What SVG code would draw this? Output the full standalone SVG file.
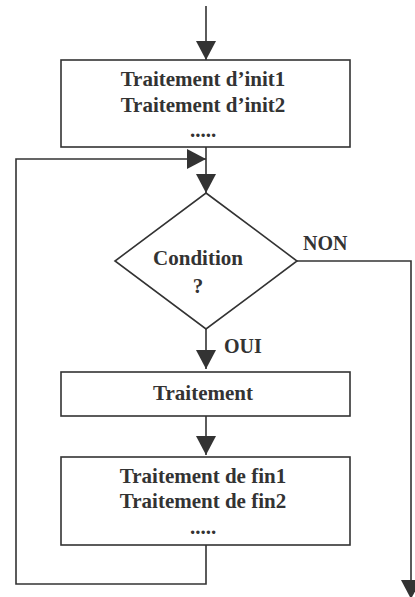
<svg xmlns="http://www.w3.org/2000/svg" width="415" height="597" viewBox="0 0 415 597">
<style>
.box{fill:#fff;stroke:#333;stroke-width:1.6}
.ln{fill:none;stroke:#333;stroke-width:1.6}
text{font-family:"Liberation Serif","Times New Roman",serif;font-weight:bold;font-size:21px;fill:#333;text-anchor:middle}
.lbl{font-size:20px;text-anchor:start}
</style>
<defs>
<marker id="ah" markerWidth="19" markerHeight="21" refX="19" refY="10" orient="auto" markerUnits="userSpaceOnUse">
<path d="M0,0 L19,10 L0,20 Z" fill="#333"/>
</marker>
</defs>
<g id="connectors">
<line class="ln" x1="206" y1="6" x2="206" y2="60" marker-end="url(#ah)"/>
<line class="ln" x1="206" y1="147" x2="206" y2="193" marker-end="url(#ah)"/>
<line class="ln" x1="206" y1="329" x2="206" y2="369" marker-end="url(#ah)"/>
<line class="ln" x1="206" y1="416" x2="206" y2="455" marker-end="url(#ah)"/>
<path class="ln" d="M206,545 V584 H16 V159 H206" marker-end="url(#ah)"/>
<path class="ln" d="M297,261 H411 V599" marker-end="url(#ah)"/>
<text class="lbl" x="303" y="250">NON</text>
<text class="lbl" x="224" y="353">OUI</text>
</g>
<g id="init">
<rect class="box" x="61" y="60" width="289" height="87"/>
<text x="203" y="86">Traitement d’init1</text>
<text x="203" y="112">Traitement d’init2</text>
<text x="203" y="137">.....</text>
</g>
<g id="condition">
<polygon class="box" points="206,193 297,261 206,329 115,261"/>
<text x="198" y="265" font-size="20">Condition</text>
<text x="198" y="293" font-size="20">?</text>
</g>
<g id="traitement">
<rect class="box" x="61" y="372" width="289" height="44"/>
<text x="203" y="400">Traitement</text>
</g>
<g id="fin">
<rect class="box" x="61" y="457" width="289" height="88"/>
<text x="203" y="483">Traitement de fin1</text>
<text x="203" y="508">Traitement de fin2</text>
<text x="203" y="534">.....</text>
</g>
</svg>
